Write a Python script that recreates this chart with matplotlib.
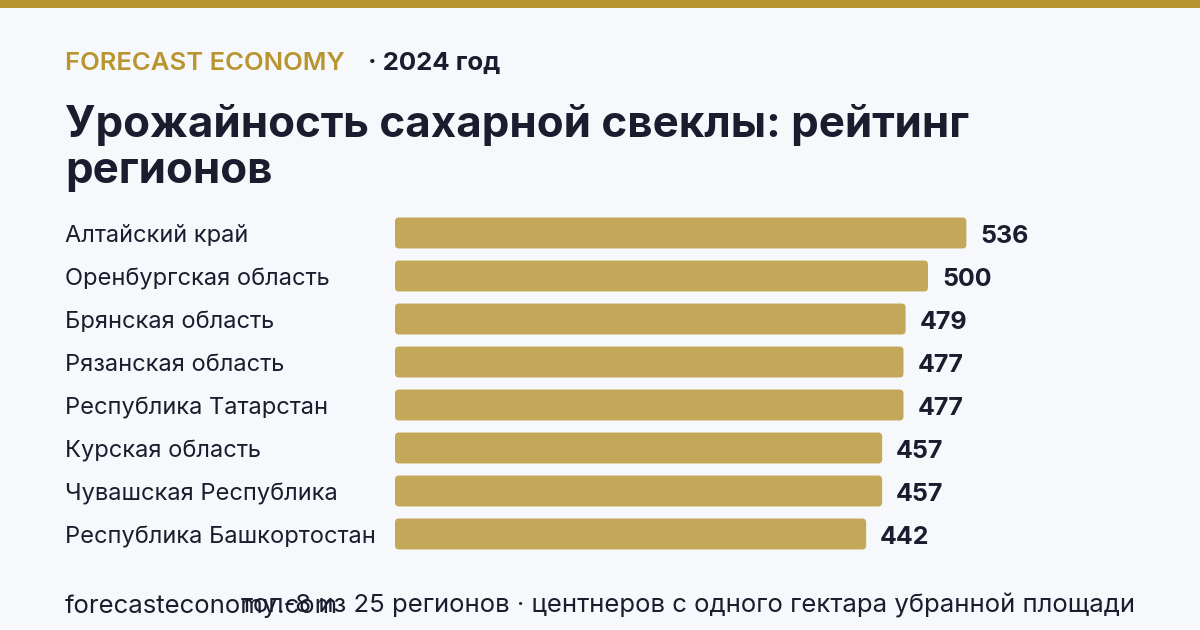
import matplotlib
matplotlib.use("Agg")
import matplotlib.pyplot as plt
from matplotlib.patches import FancyBboxPatch, Rectangle
from matplotlib.transforms import blended_transform_factory

plt.rcParams['font.family'] = ['Inter', 'DejaVu Sans']

regions = ["Алтайский край", "Оренбургская область", "Брянская область",
           "Рязанская область", "Республика Татарстан", "Курская область",
           "Чувашская Республика", "Республика Башкортостан"]
values = [536, 500, 479, 477, 477, 457, 457, 442]

brand = "FORECAST ECONOMY"
year_txt = "· 2024 год"
title_lines = ["Урожайность сахарной свеклы: рейтинг", "регионов"]
site = "forecasteconomy.com"
note = "топ-8 из 25 регионов · центнеров с одного гектара убранной площади"

BG = "#f7f8fc"
GOLD = "#b8952f"
BAR = "#c4a85a"
DARK = "#1c1c2e"

W, H = 1200, 630
fig = plt.figure(figsize=(12, 6.3), dpi=100, facecolor=BG)

def fx(px):
    return px / W

def fy(py):
    return 1 - py / H

# top stripe
fig.patches.append(Rectangle((0, fy(8)), 1, 8 / H, transform=fig.transFigure,
                             facecolor=GOLD, edgecolor="none"))

fig.text(fx(65), fy(70), brand, color=GOLD, fontsize=18.5, fontweight="semibold")
fig.text(fx(368), fy(70), year_txt, color=DARK, fontsize=18.5, fontweight="bold")
fig.text(fx(65), fy(137), title_lines[0], color=DARK, fontsize=31.6, fontweight="bold")
fig.text(fx(65), fy(183), title_lines[1], color=DARK, fontsize=31.6, fontweight="bold")

# bar area
px_per_unit = 1.066
row = 43
n = len(values)
top = 233 - row / 2
ax = fig.add_axes([fx(395), fy(top + row * n), fx(740), row * n / H])
ax.set_facecolor(BG)
ax.set_xlim(0, 740 / px_per_unit)
ax.set_ylim(n - 0.5, -0.5)
ax.axis("off")

h = 0.72
r = 4 / px_per_unit
aspect = (1 / row) / (1 / px_per_unit)
lab_tr = blended_transform_factory(fig.transFigure, ax.transData)
for i, (name, v) in enumerate(zip(regions, values)):
    ax.add_patch(FancyBboxPatch((0, i - h / 2), v, h,
                                boxstyle=f"round,pad=0,rounding_size={r}",
                                mutation_aspect=aspect,
                                facecolor=BAR, edgecolor="none"))
    ax.text(v + 14 / px_per_unit, i + 0.08, str(v), va="center", ha="left",
            color=DARK, fontsize=18, fontweight="bold")
    ax.text(fx(65), i + 0.08, name, transform=lab_tr, va="center", ha="left",
            color=DARK, fontsize=17)

fig.text(fx(65), fy(613), site, color=DARK, fontsize=18.5)
fig.text(fx(1135), fy(613), note, color=DARK, fontsize=18.5, ha="right")

fig.savefig("out.png", dpi=100, facecolor=BG)
